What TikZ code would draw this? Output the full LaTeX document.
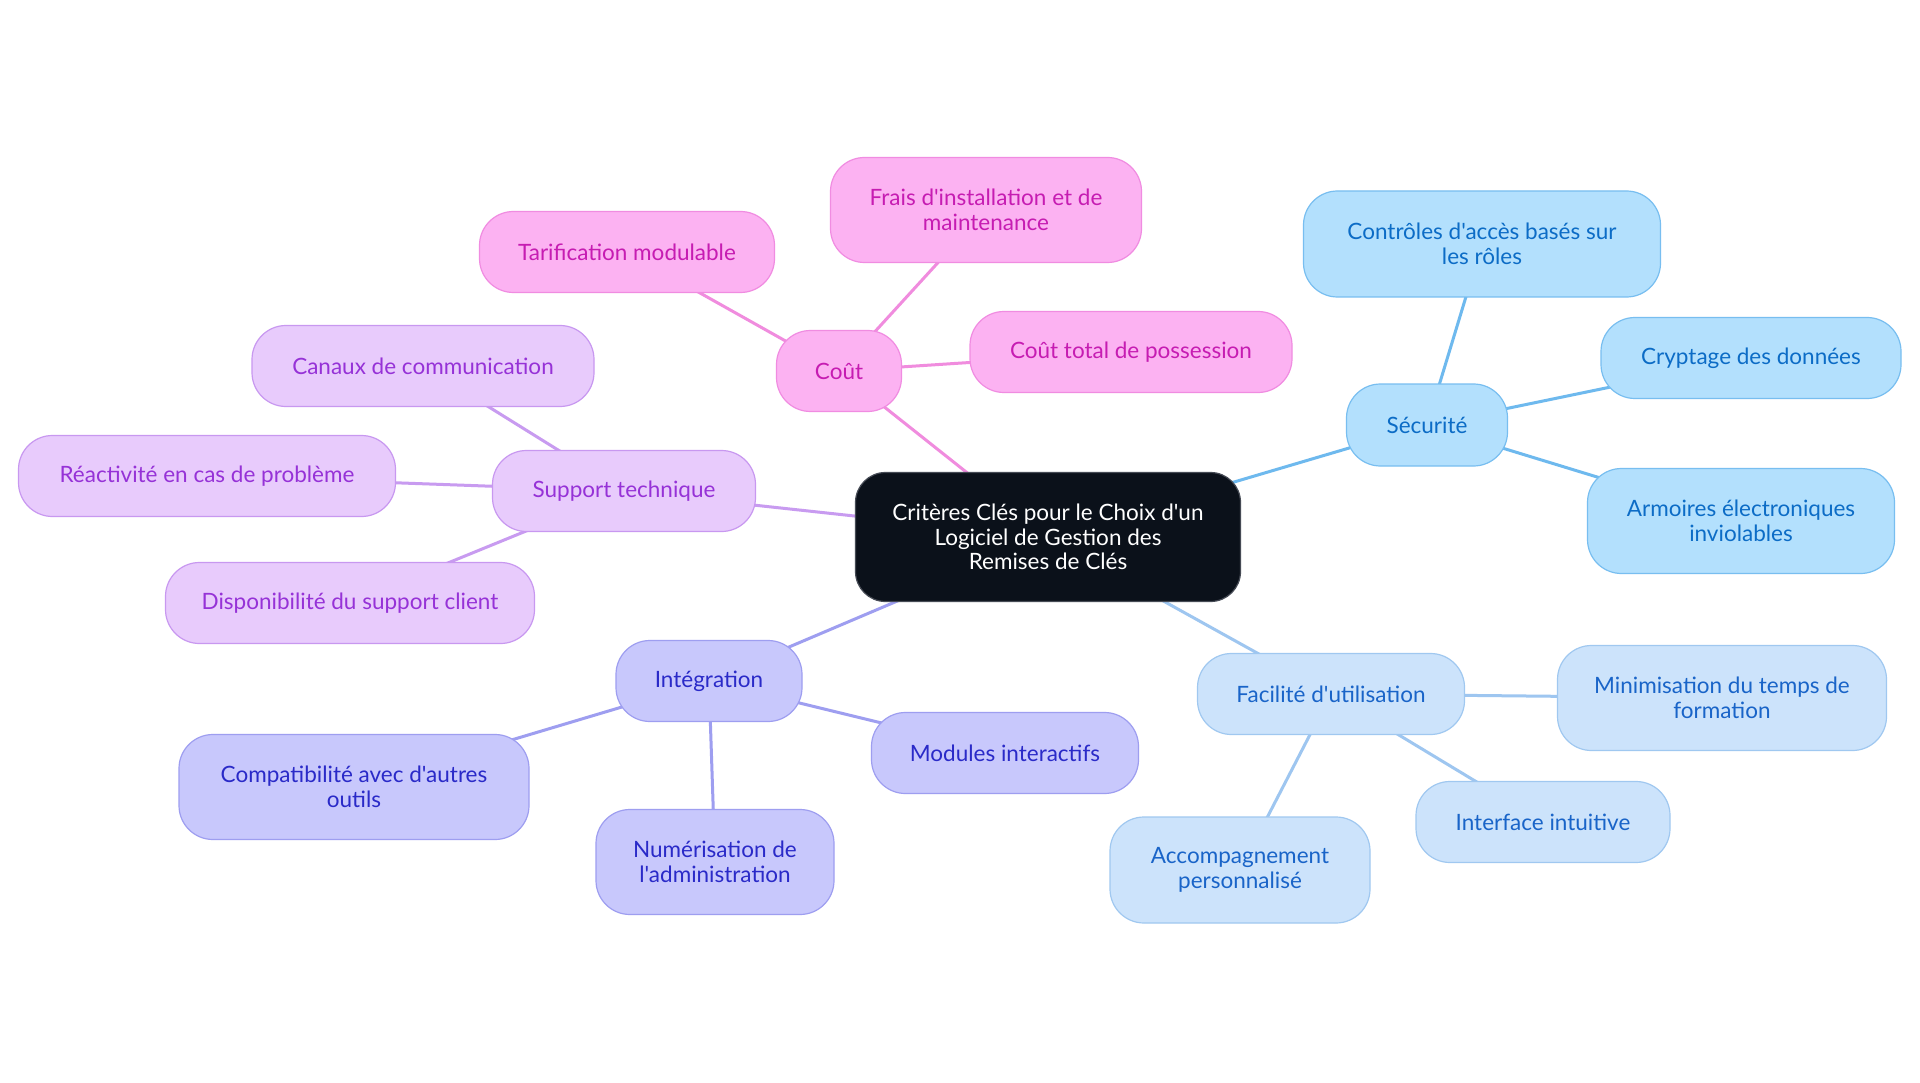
\documentclass[tikz,border=0pt]{standalone}
\usepackage{fontspec}
\newfontfamily\latofont{Lato}
\usetikzlibrary{backgrounds}
\definecolor{ctrF}{RGB}{11,17,26}
\definecolor{ctrD}{RGB}{70,75,85}
\definecolor{pinkF}{RGB}{252,178,242}
\definecolor{pinkD}{RGB}{240,140,225}
\definecolor{pinkT}{RGB}{198,28,178}
\definecolor{pinkL}{RGB}{240,140,222}
\definecolor{blueF}{RGB}{179,224,253}
\definecolor{blueD}{RGB}{120,190,240}
\definecolor{blueT}{RGB}{12,108,198}
\definecolor{blueL}{RGB}{110,185,238}
\definecolor{lblF}{RGB}{204,227,251}
\definecolor{lblD}{RGB}{160,200,240}
\definecolor{lblT}{RGB}{25,100,200}
\definecolor{lblL}{RGB}{158,198,240}
\definecolor{lavF}{RGB}{200,200,252}
\definecolor{lavD}{RGB}{158,158,240}
\definecolor{lavT}{RGB}{42,42,200}
\definecolor{lavL}{RGB}{158,158,240}
\definecolor{purF}{RGB}{232,203,252}
\definecolor{purD}{RGB}{200,152,240}
\definecolor{purT}{RGB}{150,50,215}
\definecolor{purL}{RGB}{200,155,240}
\tikzset{
  base/.style={rounded corners=34pt, draw, line width=1.2pt, align=center,
    font=\latofont\fontsize{22.5}{24.5}\selectfont, inner sep=0pt},
  ctrbox/.style={base, rounded corners=30pt, fill=ctrF, draw=ctrD, text=white},
  pinkbox/.style={base, fill=pinkF, draw=pinkD, text=pinkT},
  bluebox/.style={base, fill=blueF, draw=blueD, text=blueT},
  lblbox/.style={base, fill=lblF, draw=lblD, text=lblT},
  lavbox/.style={base, fill=lavF, draw=lavD, text=lavT},
  purbox/.style={base, fill=purF, draw=purD, text=purT},
  conn/.style={line width=3pt},
}
\begin{document}
\begin{tikzpicture}[x=1pt,y=-1pt]
\path[use as bounding box] (0,0) rectangle (1920,1083);

% center
\node[ctrbox, minimum width=385pt, minimum height=129pt] (ctr) at (1048,537)
  {Critères Clés pour le Choix d'un\\Logiciel de Gestion des\\Remises de Clés};

% Coût
\node[pinkbox, minimum width=125pt, minimum height=81pt] (cout) at (839,371) {Coût};
\node[pinkbox, minimum width=311pt, minimum height=105pt] (frais) at (986,210) {Frais d'installation et de\\maintenance};
\node[pinkbox, minimum width=322pt, minimum height=81pt] (tco) at (1131,352) {Coût total de possession};
\node[pinkbox, minimum width=295pt, minimum height=81pt] (tarif) at (627,252) {Tarification modulable};

% Sécurité
\node[bluebox, minimum width=161pt, minimum height=82pt] (secu) at (1427,425) {Sécurité};
\node[bluebox, minimum width=357pt, minimum height=106pt] (ctrl) at (1482,244) {Contrôles d'accès basés sur\\les rôles};
\node[bluebox, minimum width=300pt, minimum height=81pt] (crypt) at (1751,358) {Cryptage des données};
\node[bluebox, minimum width=307pt, minimum height=105pt] (armo) at (1741,521) {Armoires électroniques\\inviolables};

% Support technique
\node[purbox, minimum width=263pt, minimum height=81pt] (supp) at (624,491) {Support technique};
\node[purbox, minimum width=342pt, minimum height=81pt] (canaux) at (423,366) {Canaux de communication};
\node[purbox, minimum width=377pt, minimum height=81pt] (react) at (207,476) {Réactivité en cas de problème};
\node[purbox, minimum width=369pt, minimum height=81pt] (dispo) at (350,603) {Disponibilité du support client};

% Intégration
\node[lavbox, minimum width=186pt, minimum height=81pt] (integ) at (709,681) {Intégration};
\node[lavbox, minimum width=350pt, minimum height=105pt] (compat) at (354,787) {Compatibilité avec d'autres\\outils};
\node[lavbox, minimum width=238pt, minimum height=105pt] (numer) at (715,862) {Numérisation de\\l'administration};
\node[lavbox, minimum width=267pt, minimum height=81pt] (modul) at (1005,753) {Modules interactifs};

% Facilité d'utilisation
\node[lblbox, minimum width=267pt, minimum height=81pt] (facil) at (1331,694) {Facilité d'utilisation};
\node[lblbox, minimum width=329pt, minimum height=105pt] (minim) at (1722,698) {Minimisation du temps de\\formation};
\node[lblbox, minimum width=254pt, minimum height=81pt] (inter) at (1543,822) {Interface intuitive};
\node[lblbox, minimum width=260pt, minimum height=106pt] (accom) at (1240,870) {Accompagnement\\personnalisé};

% connectors (behind the nodes)
\begin{scope}[on background layer]
\fill[white] (0,0) rectangle (1920,1083);
\draw[conn, pinkL] (ctr.center) -- (cout.center);
\draw[conn, pinkL] (cout.center) -- (frais.center);
\draw[conn, pinkL] (cout.center) -- (tco.center);
\draw[conn, pinkL] (cout.center) -- (tarif.center);

\draw[conn, blueL] (ctr.center) -- (secu.center);
\draw[conn, blueL] (secu.center) -- (ctrl.center);
\draw[conn, blueL] (secu.center) -- (crypt.center);
\draw[conn, blueL] (secu.center) -- (armo.center);

\draw[conn, purL] (ctr.center) -- (supp.center);
\draw[conn, purL] (supp.center) -- (canaux.center);
\draw[conn, purL] (supp.center) -- (react.center);
\draw[conn, purL] (supp.center) -- (dispo.center);

\draw[conn, lavL] (ctr.center) -- (integ.center);
\draw[conn, lavL] (integ.center) -- (compat.center);
\draw[conn, lavL] (integ.center) -- (numer.center);
\draw[conn, lavL] (integ.center) -- (modul.center);

\draw[conn, lblL] (ctr.center) -- (facil.center);
\draw[conn, lblL] (facil.center) -- (minim.center);
\draw[conn, lblL] (facil.center) -- (inter.center);
\draw[conn, lblL] (facil.center) -- (accom.center);
\end{scope}
\end{tikzpicture}
\end{document}
